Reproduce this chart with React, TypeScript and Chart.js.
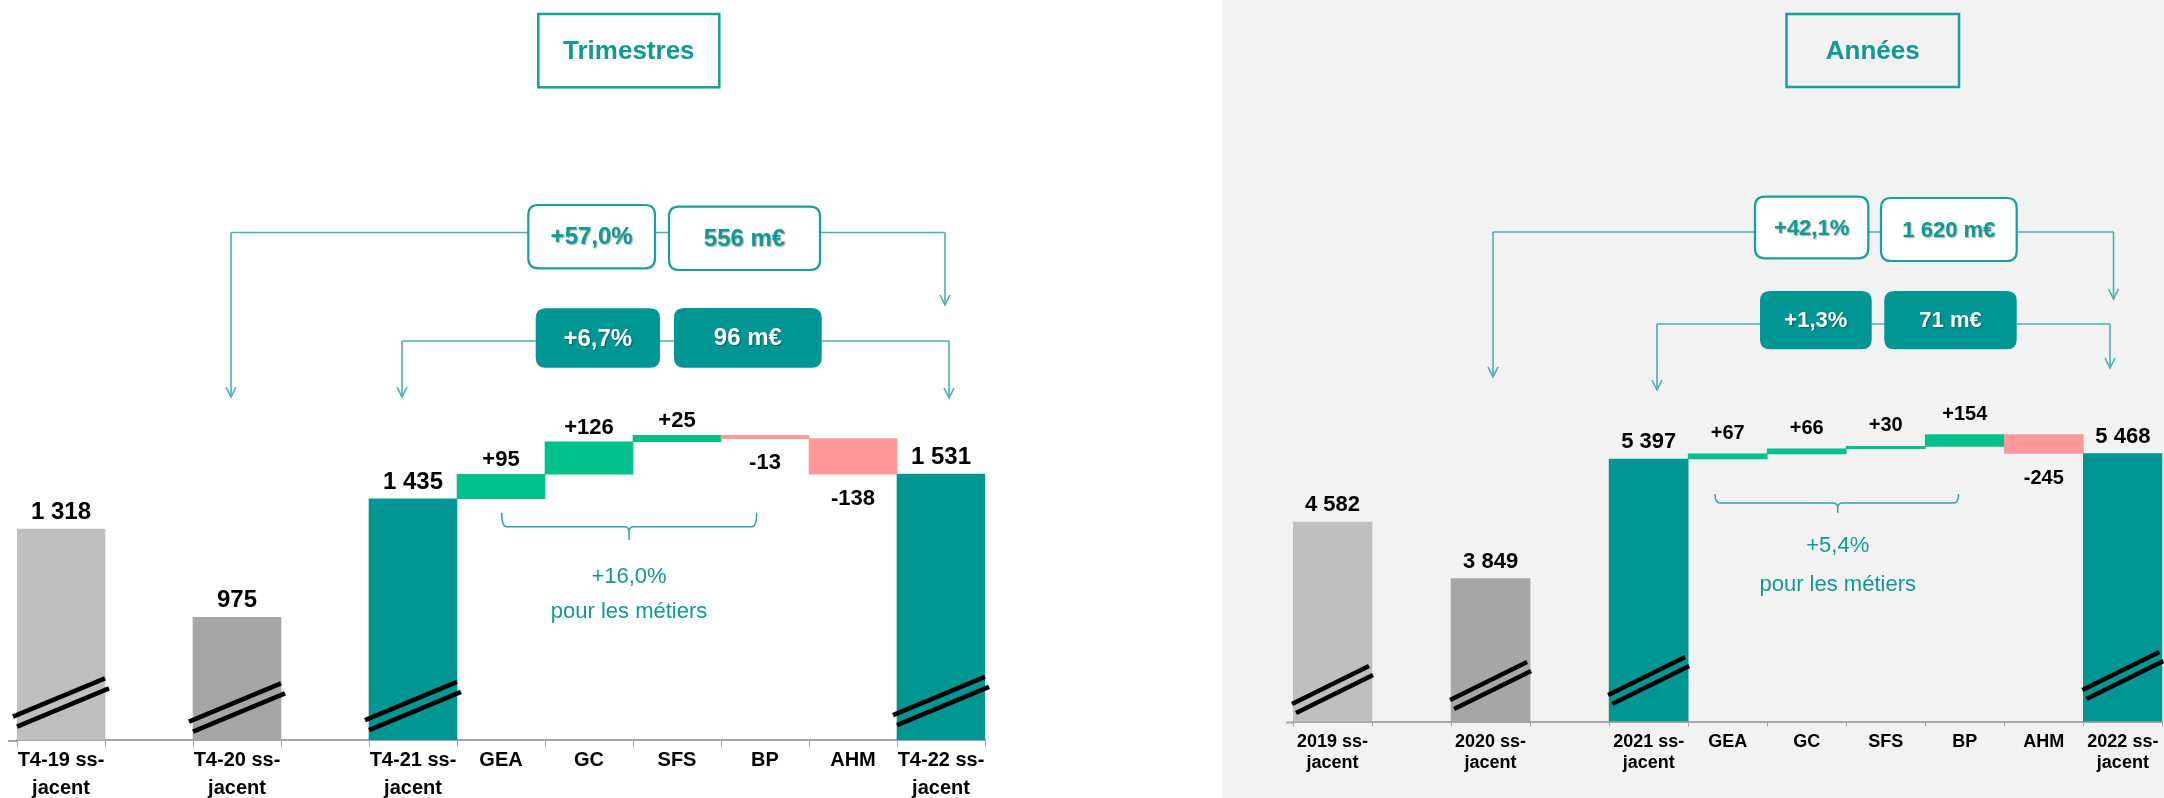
import React, { useEffect, useRef } from 'react';
import { Chart, registerables } from 'chart.js';

Chart.register(...registerables);

const FONT = "'Liberation Sans', Arial, Helvetica, sans-serif";
const TEAL = '#009693';
const TEAL_TEXT = '#109a97';
const LINE_TEAL = '#45b2af';
const BOX_TEAL = '#17a09c';
const GREEN = '#00c08b';
const PINK = '#ff9999';
const GRAY_LIGHT = '#bfbfbf';
const GRAY_DARK = '#a6a6a6';
const AXIS_GRAY = '#a6a6a6';

// ---------- Data: quarters ----------
const quarterLabels: (string | string[])[] = [
  ['T4-19 ss-', 'jacent'], '', ['T4-20 ss-', 'jacent'], '', ['T4-21 ss-', 'jacent'],
  'GEA', 'GC', 'SFS', 'BP', 'AHM', ['T4-22 ss-', 'jacent'],
];
const quarterTotals: (number | null)[] = [1318, null, 975, null, 1435, null, null, null, null, null, 1531];
const quarterDeltas: (number | null)[] = [null, null, null, null, null, 95, 126, 25, -13, -138, null];
const quarterTotalColors: (string | null)[] = [GRAY_LIGHT, null, GRAY_DARK, null, TEAL, null, null, null, null, null, TEAL];
const quarterTitle = 'Trimestres';
const quarterGrowthAll = ['+57,0%', '556 m€'];
const quarterGrowthBusiness = ['+6,7%', '96 m€'];
const quarterBusinessShare = ['+16,0%', 'pour les métiers'];

// ---------- Data: years ----------
const yearLabels: (string | string[])[] = [
  ['2019 ss-', 'jacent'], '', ['2020 ss-', 'jacent'], '', ['2021 ss-', 'jacent'],
  'GEA', 'GC', 'SFS', 'BP', 'AHM', ['2022 ss-', 'jacent'],
];
const yearTotals: (number | null)[] = [4582, null, 3849, null, 5397, null, null, null, null, null, 5468];
const yearDeltas: (number | null)[] = [null, null, null, null, null, 67, 66, 30, 154, -245, null];
const yearTotalColors: (string | null)[] = [GRAY_LIGHT, null, GRAY_DARK, null, TEAL, null, null, null, null, null, TEAL];
const yearTitle = 'Années';
const yearGrowthAll = ['+42,1%', '1 620 m€'];
const yearGrowthBusiness = ['+1,3%', '71 m€'];
const yearBusinessShare = ['+5,4%', 'pour les métiers'];

const fmt = (n: number) => String(Math.abs(n)).replace(/\B(?=(\d{3})+(?!\d))/g, ' ');

function buildWaterfall(totals: (number | null)[], deltas: (number | null)[], yMin: number) {
  const data: ([number, number] | null)[] = [];
  const kinds: string[] = [];
  const texts: string[] = [];
  let running = 0;
  for (let i = 0; i < totals.length; i++) {
    const t = totals[i];
    const d = deltas[i];
    if (t != null) {
      data.push([yMin, t]);
      running = t;
      kinds.push('total');
      texts.push(fmt(t));
    } else if (d != null) {
      data.push([running, running + d]);
      running += d;
      kinds.push(d >= 0 ? 'up' : 'down');
      texts.push((d >= 0 ? '+' : '-') + fmt(d));
    } else {
      data.push(null);
      kinds.push('none');
      texts.push('');
    }
  }
  return { data, kinds, texts };
}

type Box = { x1: number; y1: number; x2: number; y2: number; text: string };
type Row = { y: number; leftX: number; leftTip: number; rightX: number; rightTip: number; filled: boolean; boxes: Box[] };

interface PanelCfg {
  pageX: number;
  width: number;
  height: number;
  bg: string;
  labels: (string | string[])[];
  totals: (number | null)[];
  deltas: (number | null)[];
  totalColors: (string | null)[];
  yMin: number;
  yMax: number;
  padLeft: number;
  padRight: number;
  padTop: number;
  axisHeight: number;
  axisExt: number;
  tickSize: number;
  tickLineHeight: number;
  tickLength: number;
  tickPadding: number;
  totalFont: number;
  deltaFont: number;
  totalGap: number;
  deltaGap: number;
  negGap: number;
  breakLower: (number | null)[];
  breakSep: number;
  breakHx: number;
  breakHy: number;
  title: Box;
  titleFont: number;
  boxFont: number;
  rows: Row[];
  bracket: { x1: number; x2: number; xm: number; yTop: number; yH: number; yTip: number };
  bracketTexts: string[];
  bracketBaselines: number[];
}

const leftCfg: PanelCfg = {
  pageX: 0,
  width: 1222,
  height: 798,
  bg: '#ffffff',
  labels: quarterLabels,
  totals: quarterTotals,
  deltas: quarterDeltas,
  totalColors: quarterTotalColors,
  yMin: 500,
  yMax: 3000,
  padLeft: 17,
  padRight: 237,
  padTop: 95,
  axisHeight: 58,
  axisExt: 9,
  tickSize: 20,
  tickLineHeight: 1.4,
  tickLength: 7,
  tickPadding: -0.5,
  totalFont: 24,
  deltaFont: 22,
  totalGap: 10,
  deltaGap: 8,
  negGap: 15,
  breakLower: [32.5, null, 27.5, null, 29, null, null, null, null, null, 34],
  breakSep: 10,
  breakHx: 46,
  breakHy: 19.2,
  title: { x1: 538.3, y1: 14, x2: 719.3, y2: 87.3, text: quarterTitle },
  titleFont: 26,
  boxFont: 24,
  rows: [
    {
      y: 232.5, leftX: 231, leftTip: 397, rightX: 945, rightTip: 305, filled: false,
      boxes: [
        { x1: 528.3, y1: 205, x2: 655, y2: 268.3, text: quarterGrowthAll[0] },
        { x1: 669, y1: 206.7, x2: 820, y2: 270, text: quarterGrowthAll[1] },
      ],
    },
    {
      y: 341, leftX: 402, leftTip: 397, rightX: 949, rightTip: 398, filled: true,
      boxes: [
        { x1: 535.7, y1: 308.3, x2: 660, y2: 367.7, text: quarterGrowthBusiness[0] },
        { x1: 674, y1: 308, x2: 821.7, y2: 367.7, text: quarterGrowthBusiness[1] },
      ],
    },
  ],
  bracket: { x1: 501.7, x2: 756.7, xm: 629, yTop: 512.7, yH: 526.7, yTip: 540 },
  bracketTexts: quarterBusinessShare,
  bracketBaselines: [583, 617.5],
};

const rightCfg: PanelCfg = {
  pageX: 1222,
  width: 942,
  height: 798,
  bg: '#f2f2f2',
  labels: yearLabels,
  totals: yearTotals,
  deltas: yearDeltas,
  totalColors: yearTotalColors,
  yMin: 2000,
  yMax: 10000,
  padLeft: 71,
  padRight: 0,
  padTop: 103.3,
  axisHeight: 76.5,
  axisExt: 7,
  tickSize: 18,
  tickLineHeight: 1.15,
  tickLength: 5,
  tickPadding: 5.6,
  totalFont: 22,
  deltaFont: 20,
  totalGap: 11,
  deltaGap: 15,
  negGap: 16,
  breakLower: [27.5, null, 31.5, null, 36.5, null, null, null, null, null, 41.5],
  breakSep: 9,
  breakHx: 38.5,
  breakHy: 19,
  title: { x1: 1786.5, y1: 14, x2: 1959, y2: 87, text: yearTitle },
  titleFont: 26,
  boxFont: 22,
  rows: [
    {
      y: 232, leftX: 1493, leftTip: 377, rightX: 2113.5, rightTip: 299, filled: false,
      boxes: [
        { x1: 1755, y1: 196.7, x2: 1868.3, y2: 258.3, text: yearGrowthAll[0] },
        { x1: 1881, y1: 198, x2: 2016.7, y2: 261, text: yearGrowthAll[1] },
      ],
    },
    {
      y: 324, leftX: 1657, leftTip: 390, rightX: 2110, rightTip: 368, filled: true,
      boxes: [
        { x1: 1760, y1: 291, x2: 1871.7, y2: 349.3, text: yearGrowthBusiness[0] },
        { x1: 1884.3, y1: 291, x2: 2016.7, y2: 349.3, text: yearGrowthBusiness[1] },
      ],
    },
  ],
  bracket: { x1: 1715, x2: 1958.6, xm: 1837.7, yTop: 494, yH: 503, yTip: 512.7 },
  bracketTexts: yearBusinessShare,
  bracketBaselines: [552, 591],
};

function roundRectPath(ctx: CanvasRenderingContext2D, x: number, y: number, w: number, h: number, r: number) {
  ctx.beginPath();
  ctx.moveTo(x + r, y);
  ctx.lineTo(x + w - r, y);
  ctx.quadraticCurveTo(x + w, y, x + w, y + r);
  ctx.lineTo(x + w, y + h - r);
  ctx.quadraticCurveTo(x + w, y + h, x + w - r, y + h);
  ctx.lineTo(x + r, y + h);
  ctx.quadraticCurveTo(x, y + h, x, y + h - r);
  ctx.lineTo(x, y + r);
  ctx.quadraticCurveTo(x, y, x + r, y);
  ctx.closePath();
}

function arrowDown(ctx: CanvasRenderingContext2D, x: number, yFrom: number, yTip: number) {
  ctx.beginPath();
  ctx.moveTo(x, yFrom);
  ctx.lineTo(x, yTip);
  ctx.stroke();
  ctx.beginPath();
  ctx.moveTo(x - 5, yTip - 10);
  ctx.lineTo(x, yTip);
  ctx.lineTo(x + 5, yTip - 10);
  ctx.stroke();
}

function makePlugin(cfg: PanelCfg, kinds: string[], texts: string[]) {
  return {
    id: 'panelDecor',
    afterDatasetsDraw(chart: any) {
      const ctx: CanvasRenderingContext2D = chart.ctx;
      const meta = chart.getDatasetMeta(0);
      const area = chart.chartArea;
      ctx.save();
      // value labels
      ctx.fillStyle = '#000000';
      ctx.textAlign = 'center';
      ctx.textBaseline = 'alphabetic';
      meta.data.forEach((el: any, i: number) => {
        const kind = kinds[i];
        if (kind === 'none' || !el) return;
        const top = Math.min(el.y, el.base);
        const bottom = Math.max(el.y, el.base);
        if (kind === 'total') {
          ctx.font = `bold ${cfg.totalFont}px ${FONT}`;
          ctx.fillText(texts[i], el.x, top - cfg.totalGap);
        } else if (kind === 'up') {
          ctx.font = `bold ${cfg.deltaFont}px ${FONT}`;
          ctx.fillText(texts[i], el.x, top - cfg.deltaGap);
        } else {
          ctx.font = `bold ${cfg.deltaFont}px ${FONT}`;
          ctx.fillText(texts[i], el.x, bottom + cfg.negGap + cfg.deltaFont * 0.716);
        }
      });
      // axis break marks on totals
      ctx.strokeStyle = '#000000';
      ctx.lineWidth = 4.5;
      ctx.lineCap = 'butt';
      meta.data.forEach((el: any, i: number) => {
        const lower = cfg.breakLower[i];
        if (kinds[i] !== 'total' || lower == null) return;
        const axisY = area.bottom;
        const offs = [lower, lower + cfg.breakSep];
        offs.forEach((o, k) => {
          const cx = el.x + (k === 0 ? 2 : -2);
          const cy = axisY - o;
          ctx.beginPath();
          ctx.moveTo(cx - cfg.breakHx, cy + cfg.breakHy);
          ctx.lineTo(cx + cfg.breakHx, cy - cfg.breakHy);
          ctx.stroke();
        });
      });
      ctx.restore();
    },
    afterDraw(chart: any) {
      const ctx: CanvasRenderingContext2D = chart.ctx;
      const area = chart.chartArea;
      const ox = cfg.pageX;
      ctx.save();
      // axis extension on the left
      ctx.strokeStyle = AXIS_GRAY;
      ctx.lineWidth = 2;
      ctx.beginPath();
      ctx.moveTo(area.left - cfg.axisExt, area.bottom + 1);
      ctx.lineTo(area.left, area.bottom + 1);
      ctx.stroke();

      // title box
      const t = cfg.title;
      ctx.strokeStyle = BOX_TEAL;
      ctx.lineWidth = 2.5;
      ctx.strokeRect(t.x1 - ox, t.y1, t.x2 - t.x1, t.y2 - t.y1);
      ctx.fillStyle = TEAL_TEXT;
      ctx.font = `bold ${cfg.titleFont}px ${FONT}`;
      ctx.textAlign = 'center';
      ctx.textBaseline = 'middle';
      ctx.fillText(t.text, (t.x1 + t.x2) / 2 - ox, (t.y1 + t.y2) / 2 + 1);

      // rows with connectors
      cfg.rows.forEach((row) => {
        ctx.strokeStyle = LINE_TEAL;
        ctx.lineWidth = 1.6;
        const b0 = row.boxes[0];
        const b1 = row.boxes[1];
        ctx.beginPath();
        ctx.moveTo(row.leftX - ox, row.y);
        ctx.lineTo(b0.x1 - ox, row.y);
        ctx.moveTo(b0.x2 - ox, row.y);
        ctx.lineTo(b1.x1 - ox, row.y);
        ctx.moveTo(b1.x2 - ox, row.y);
        ctx.lineTo(row.rightX - ox, row.y);
        ctx.stroke();
        arrowDown(ctx, row.leftX - ox, row.y, row.leftTip);
        arrowDown(ctx, row.rightX - ox, row.y, row.rightTip);

        row.boxes.forEach((b) => {
          roundRectPath(ctx, b.x1 - ox, b.y1, b.x2 - b.x1, b.y2 - b.y1, 10);
          if (row.filled) {
            ctx.fillStyle = TEAL;
            ctx.fill();
          } else {
            ctx.fillStyle = '#ffffff';
            ctx.fill();
            ctx.strokeStyle = BOX_TEAL;
            ctx.lineWidth = 2.2;
            ctx.stroke();
          }
          ctx.save();
          ctx.shadowColor = 'rgba(0,0,0,0.35)';
          ctx.shadowOffsetX = 1;
          ctx.shadowOffsetY = 1;
          ctx.shadowBlur = 1.5;
          ctx.fillStyle = row.filled ? '#ffffff' : TEAL_TEXT;
          ctx.font = `bold ${cfg.boxFont}px ${FONT}`;
          ctx.textAlign = 'center';
          ctx.textBaseline = 'middle';
          ctx.fillText(b.text, (b.x1 + b.x2) / 2 - ox, (b.y1 + b.y2) / 2 + 1);
          ctx.restore();
        });
      });

      // curly bracket
      const br = cfg.bracket;
      const x1 = br.x1 - ox;
      const x2 = br.x2 - ox;
      const xm = br.xm - ox;
      const r = 5;
      ctx.strokeStyle = '#2ea5a2';
      ctx.lineWidth = 1.5;
      ctx.beginPath();
      ctx.moveTo(x1, br.yTop);
      ctx.quadraticCurveTo(x1, br.yH, x1 + r, br.yH);
      ctx.lineTo(xm - r, br.yH);
      ctx.quadraticCurveTo(xm, br.yH, xm, br.yH + r);
      ctx.lineTo(xm, br.yTip);
      ctx.moveTo(xm, br.yH + r);
      ctx.quadraticCurveTo(xm, br.yH, xm + r, br.yH);
      ctx.lineTo(x2 - r, br.yH);
      ctx.quadraticCurveTo(x2, br.yH, x2, br.yTop);
      ctx.stroke();

      ctx.fillStyle = TEAL_TEXT;
      ctx.font = `22px ${FONT}`;
      ctx.textAlign = 'center';
      ctx.textBaseline = 'alphabetic';
      cfg.bracketTexts.forEach((s, i) => {
        ctx.fillText(s, xm, cfg.bracketBaselines[i]);
      });
      ctx.restore();
    },
  };
}

function Panel({ cfg }: { cfg: PanelCfg }) {
  const ref = useRef<HTMLCanvasElement | null>(null);
  useEffect(() => {
    if (!ref.current) return;
    const wf = buildWaterfall(cfg.totals, cfg.deltas, cfg.yMin);
    const colors = wf.kinds.map((k, i) =>
      k === 'total' ? (cfg.totalColors[i] as string) : k === 'up' ? GREEN : k === 'down' ? PINK : 'rgba(0,0,0,0)'
    );
    const chart = new Chart(ref.current, {
      type: 'bar',
      data: {
        labels: cfg.labels as any,
        datasets: [
          {
            data: wf.data as any,
            backgroundColor: colors,
            borderWidth: 0,
            barPercentage: 1,
            categoryPercentage: 1,
          },
        ],
      },
      options: {
        responsive: false,
        animation: false,
        devicePixelRatio: 1,
        layout: {
          padding: { left: cfg.padLeft, right: cfg.padRight, top: cfg.padTop, bottom: 0 },
        },
        plugins: {
          legend: { display: false },
          tooltip: { enabled: false },
        },
        scales: {
          x: {
            type: 'category',
            offset: true,
            grid: {
              display: true,
              drawOnChartArea: false,
              drawTicks: true,
              tickLength: cfg.tickLength,
              color: AXIS_GRAY,
              lineWidth: 1,
              offset: true,
            },
            border: { display: true, color: AXIS_GRAY, width: 2 },
            ticks: {
              autoSkip: false,
              maxRotation: 0,
              minRotation: 0,
              color: '#000000',
              padding: cfg.tickPadding,
              font: { family: FONT, size: cfg.tickSize, weight: 'bold', lineHeight: cfg.tickLineHeight },
            },
            afterFit: (scale: any) => {
              scale.height = cfg.axisHeight;
            },
          } as any,
          y: {
            display: false,
            min: cfg.yMin,
            max: cfg.yMax,
          },
        },
      },
      plugins: [makePlugin(cfg, wf.kinds, wf.texts)],
    });
    return () => chart.destroy();
  }, [cfg]);
  return (
    <canvas
      ref={ref}
      width={cfg.width}
      height={cfg.height}
      style={{
        position: 'absolute',
        left: cfg.pageX,
        top: 0,
        width: cfg.width,
        height: cfg.height,
        background: cfg.bg,
        display: 'block',
      }}
    />
  );
}

export default function App() {
  return (
    <div style={{ position: 'absolute', left: 0, top: 0, width: 2164, height: 798, overflow: 'hidden', background: '#ffffff' }}>
      <Panel cfg={leftCfg} />
      <Panel cfg={rightCfg} />
    </div>
  );
}
